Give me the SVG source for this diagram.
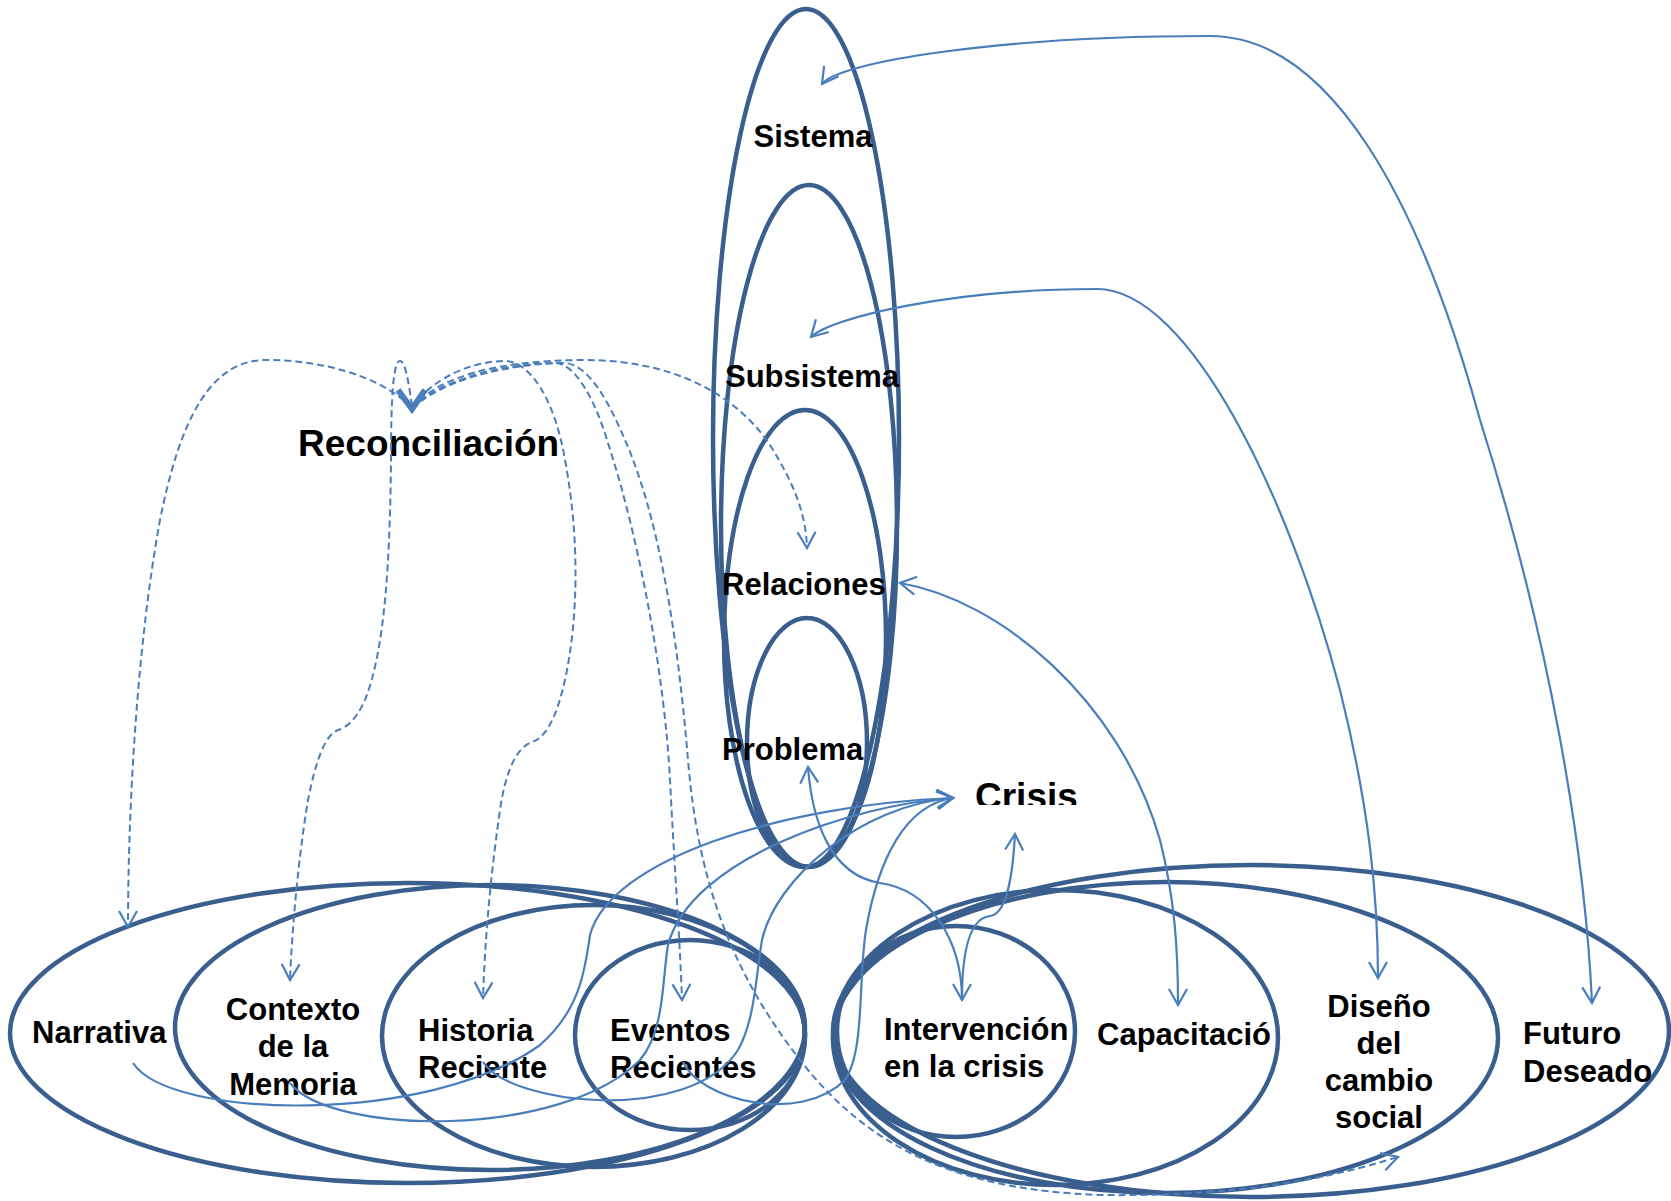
<svg xmlns="http://www.w3.org/2000/svg" width="1671" height="1201" viewBox="0 0 1671 1201">
<style>
.el{fill:none;stroke:#3A5F8E;stroke-width:4.5}
.t{font-family:"Liberation Sans",Arial,sans-serif;font-weight:bold;font-size:31px;fill:#000}
.big{font-size:37px}
.c{fill:none;stroke:#4A7EBB;stroke-width:2.2}
.d{fill:none;stroke:#4A7EBB;stroke-width:2;stroke-dasharray:7 4}
</style>
<defs>
<marker id="ah" viewBox="0 0 20 20" refX="18" refY="10" markerWidth="20" markerHeight="20" markerUnits="userSpaceOnUse" orient="auto-start-reverse">
<path d="M2 1 L18 10 L2 19" fill="none" stroke="#4A7EBB" stroke-width="2.2"/>
</marker>
<clipPath id="crisisClip"><rect x="960" y="770" width="160" height="35"/></clipPath>
</defs>
<rect width="1671" height="1201" fill="#fff"/>

<g id="sistema"><ellipse class="el" cx="806" cy="438" rx="93" ry="429"/><text class="t" x="813" y="147" text-anchor="middle">Sistema</text></g>
<g id="subsistema"><ellipse class="el" cx="809" cy="526" rx="88" ry="341"/><text class="t" x="812" y="387" text-anchor="middle">Subsistema</text></g>
<g id="relaciones"><ellipse class="el" cx="805" cy="638.5" rx="81" ry="228.5"/><text class="t" x="722" y="595">Relaciones</text></g>
<g id="problema"><ellipse class="el" cx="807" cy="742.5" rx="60" ry="124.5"/><text class="t" x="722" y="760">Problema</text></g>

<g id="narrativa"><ellipse class="el" cx="407.5" cy="1033" rx="397.5" ry="150"/><text class="t" x="32" y="1043">Narrativa</text></g>
<g id="contexto"><ellipse class="el" cx="490" cy="1027.5" rx="315" ry="142.5"/><text class="t" text-anchor="middle"><tspan x="293" y="1020">Contexto</tspan><tspan x="293" y="1057">de la</tspan><tspan x="293" y="1095">Memoria</tspan></text></g>
<g id="historia"><ellipse class="el" cx="593.5" cy="1036" rx="211.5" ry="131"/><text class="t"><tspan x="418" y="1041">Historia</tspan><tspan x="418" y="1078">Reciente</tspan></text></g>
<g id="eventos"><ellipse class="el" cx="690" cy="1035" rx="115" ry="95"/><text class="t"><tspan x="610" y="1041">Eventos</tspan><tspan x="610" y="1078">Recientes</tspan></text></g>

<g id="futuro"><ellipse class="el" cx="1251" cy="1031" rx="418" ry="166"/><text class="t"><tspan x="1523" y="1044">Futuro</tspan><tspan x="1523" y="1082">Deseado</tspan></text></g>
<g id="diseno"><ellipse class="el" cx="1165.5" cy="1037.5" rx="332.5" ry="155.5"/><text class="t" text-anchor="middle"><tspan x="1379" y="1017">Diseño</tspan><tspan x="1379" y="1054">del</tspan><tspan x="1379" y="1091">cambio</tspan><tspan x="1379" y="1128">social</tspan></text></g>
<g id="capacitacion"><ellipse class="el" cx="1055.5" cy="1037.5" rx="222.5" ry="147.5"/><text class="t" x="1097" y="1045">Capacitació</text></g>
<g id="intervencion"><ellipse class="el" cx="956" cy="1031.5" rx="119" ry="105.5"/><text class="t"><tspan x="884" y="1040">Intervención</tspan><tspan x="884" y="1077">en la crisis</tspan></text></g>

<g id="reconciliacion"><text class="t big" x="298" y="456">Reconciliación</text></g>
<g id="crisis"><text class="t big" x="975" y="809" clip-path="url(#crisisClip)">Crisis</text></g>

<g id="connectors">
<path class="c" marker-start="url(#ah)" marker-end="url(#ah)" d="M822 84 C838 62 1000 36 1210 36 C1330 36 1420 200 1480 420 C1550 640 1585 850 1592 1003"/>
<path class="c" marker-start="url(#ah)" marker-end="url(#ah)" d="M811 337 C830 318 950 289 1097 289 C1190 289 1290 500 1340 690 C1370 810 1378 900 1378 978"/>
<path class="c" marker-start="url(#ah)" marker-end="url(#ah)" d="M900 583 C1000 600 1120 700 1160 840 C1175 900 1178 950 1178 1005"/>
<path class="c" marker-start="url(#ah)" marker-end="url(#ah)" d="M808 767 C812 820 830 875 880 883 C930 890 962 940 962 1000"/>
<path class="c" marker-end="url(#ah)" d="M962 1000 C962 950 970 918 990 916 C1008 914 1013 870 1015 834"/>
<path class="c" marker-end="url(#ah)" d="M133 1063 C170 1120 430 1125 540 1045 C580 1010 585 970 590 935 C610 860 780 805 953 798"/>
<path class="c" marker-end="url(#ah)" d="M290 1083 C330 1135 560 1140 640 1060 C665 1030 662 980 668 945 C690 860 850 805 953 798"/>
<path class="c" marker-end="url(#ah)" d="M483 1062 C510 1105 690 1125 738 1050 C755 1020 756 975 762 940 C775 880 860 805 953 798"/>
<path class="c" marker-end="url(#ah)" d="M683 1062 C700 1100 800 1125 845 1080 C865 1050 858 980 866 930 C878 860 905 805 953 798"/>

<path class="d" marker-end="url(#ah)" d="M412 408 C380 375 320 360 266 360 C210 360 180 420 160 520 C138 640 128 800 128 927"/>
<path class="d" marker-end="url(#ah)" d="M412 406 C408 378 405 361 400 361 C393 361 391 400 391 460 C390 560 385 650 365 700 C355 722 345 728 338 730 C325 735 316 760 308 800 C298 860 292 930 290 980"/>
<path class="d" marker-end="url(#ah)" d="M412 408 C430 380 470 361 505 361 C530 361 555 400 565 460 C580 540 578 620 565 680 C556 720 545 738 532 742 C515 748 505 775 500 810 C490 880 485 940 483 998"/>
<path class="d" marker-end="url(#ah)" d="M412 408 C440 380 500 364 555 363 C575 363 595 400 607 440 C640 540 665 680 670 780 C674 860 680 940 682 1000"/>
<path class="d" marker-end="url(#ah)" d="M412 408 C450 375 520 363 565 363 C590 365 610 405 625 440 C660 520 678 640 688 760 C698 880 730 970 800 1060 C870 1150 960 1190 1100 1195 C1250 1197 1340 1175 1398 1157"/>
<path class="d" marker-end="url(#ah)" d="M412 408 C440 375 500 361 580 360 C680 359 740 400 770 445 C795 485 806 515 807 548"/>
<path d="M398 390 L412 409 L425 390" fill="none" stroke="#4A7EBB" stroke-width="6"/>
</g>
</svg>
